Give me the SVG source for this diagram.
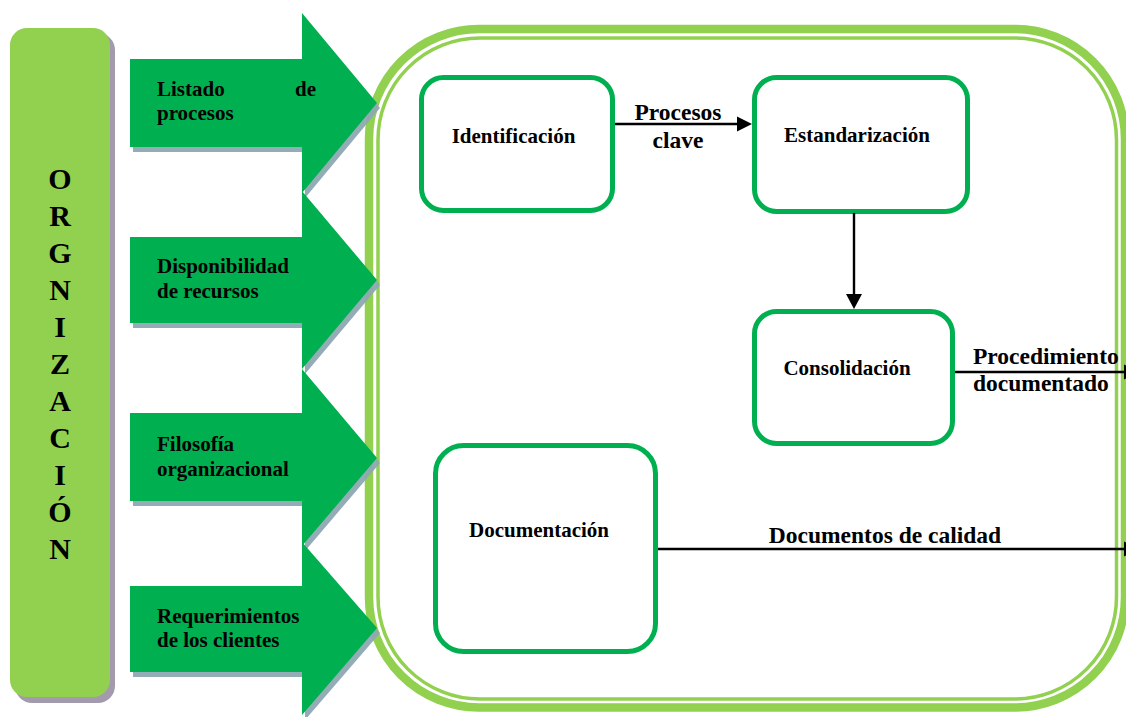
<svg xmlns="http://www.w3.org/2000/svg" width="1126" height="717" viewBox="0 0 1126 717">
  <style>
    .lbl { font-family: "Liberation Serif", "Times New Roman", serif; font-weight: bold; fill: #000; }
    .box { fill: #fff; stroke: #00b050; stroke-width: 5; }
    .inarrow { fill: #00b050; }
    .inshadow { fill: #8ea8b2; opacity: 0.95; }
    .conn { stroke: #000; stroke-width: 2.4; fill: none; }
    .head { fill: #000; }
  </style>

  <rect width="1126" height="717" fill="#fff"/>

  <!-- vertical ORGANIZACIÓN bar -->
  <g id="organizacion">
    <rect x="15" y="33" width="100" height="670" rx="17" fill="#a39bad"/>
    <rect x="10" y="28" width="100" height="669" rx="17" fill="#92d050"/>
    <g class="lbl" font-size="30" text-anchor="middle">
      <text x="60" y="189">O</text>
      <text x="60" y="226">R</text>
      <text x="60" y="263">G</text>
      <text x="60" y="300">N</text>
      <text x="60" y="337">I</text>
      <text x="60" y="374">Z</text>
      <text x="60" y="411">A</text>
      <text x="60" y="448">C</text>
      <text x="60" y="485">I</text>
      <text x="60" y="522">Ó</text>
      <text x="60" y="559">N</text>
    </g>
  </g>

  <!-- process container (double rounded border) -->
  <g id="contenedor" fill="none">
    <rect x="369" y="29" width="756" height="678.5" rx="110" stroke="#92d050" stroke-width="8.5"/>
    <rect x="378" y="38" width="738.5" height="661" rx="102" stroke="#92d050" stroke-width="3.5"/>
  </g>

  <!-- input arrows -->
  <g id="entrada-listado">
    <path class="inshadow" transform="translate(3,5)" d="M130 59 H302 V13 L377 103 L302 193 V147 H130 Z"/>
    <path class="inarrow" d="M130 59 H302 V13 L377 103 L302 193 V147 H130 Z"/>
    <text class="lbl" font-size="21" x="157" y="96">Listado</text>
    <text class="lbl" font-size="21" x="316" y="96" text-anchor="end">de</text>
    <text class="lbl" font-size="21" x="157" y="120">procesos</text>
  </g>
  <g id="entrada-recursos">
    <path class="inshadow" transform="translate(3,5)" d="M130 237 H302 V191 L377 280 L302 369 V323 H130 Z"/>
    <path class="inarrow" d="M130 237 H302 V191 L377 280 L302 369 V323 H130 Z"/>
    <text class="lbl" font-size="21" x="157" y="273">Disponibilidad</text>
    <text class="lbl" font-size="21" x="157" y="298">de recursos</text>
  </g>
  <g id="entrada-filosofia">
    <path class="inshadow" transform="translate(3,5)" d="M130 413 H302 V369 L377 458 L302 546 V501 H130 Z"/>
    <path class="inarrow" d="M130 413 H302 V369 L377 458 L302 546 V501 H130 Z"/>
    <text class="lbl" font-size="21" x="157" y="451">Filosofía</text>
    <text class="lbl" font-size="21" x="157" y="476">organizacional</text>
  </g>
  <g id="entrada-clientes">
    <path class="inshadow" transform="translate(3,5)" d="M130 586 H302 V542 L377 628 L302 715 V672 H130 Z"/>
    <path class="inarrow" d="M130 586 H302 V542 L377 628 L302 715 V672 H130 Z"/>
    <text class="lbl" font-size="21" x="157" y="623">Requerimientos</text>
    <text class="lbl" font-size="21" x="157" y="647">de los clientes</text>
  </g>

  <!-- process steps -->
  <g id="identificacion">
    <rect class="box" x="421.5" y="77.5" width="191" height="133" rx="22"/>
    <text class="lbl" font-size="21" x="513.5" y="143" text-anchor="middle">Identificación</text>
  </g>
  <g id="estandarizacion">
    <rect class="box" x="754.5" y="77.5" width="213" height="134" rx="22"/>
    <text class="lbl" font-size="21" x="857" y="142" text-anchor="middle">Estandarización</text>
  </g>
  <g id="consolidacion">
    <rect class="box" x="754.5" y="311.5" width="198" height="132" rx="22"/>
    <text class="lbl" font-size="21" x="847" y="375" text-anchor="middle">Consolidación</text>
  </g>
  <g id="documentacion">
    <rect class="box" x="435.5" y="445.5" width="220" height="206" rx="28"/>
    <text class="lbl" font-size="21" x="539" y="537" text-anchor="middle">Documentación</text>
  </g>

  <!-- connectors -->
  <g id="conectores">
    <line class="conn" x1="615" y1="124" x2="740" y2="124"/>
    <polygon class="head" points="752,124 737,116.5 737,131.5"/>
    <text class="lbl" font-size="23.5" x="678" y="120" text-anchor="middle">Procesos</text>
    <text class="lbl" font-size="23.5" x="678" y="148" text-anchor="middle">clave</text>

    <line class="conn" x1="854" y1="213" x2="854" y2="297"/>
    <polygon class="head" points="854,309 846,294 862,294"/>

    <line class="conn" x1="955" y1="372" x2="1126" y2="372"/>
    <polygon class="head" points="1138,372 1124,364.5 1124,379.5"/>
    <text class="lbl" font-size="23.5" x="973" y="364">Procedimiento</text>
    <text class="lbl" font-size="23.5" x="973" y="391">documentado</text>

    <line class="conn" x1="658" y1="549" x2="1126" y2="549"/>
    <polygon class="head" points="1138,549 1124,541.5 1124,556.5"/>
    <text class="lbl" font-size="23.5" x="885" y="543" text-anchor="middle">Documentos de calidad</text>
  </g>
</svg>
